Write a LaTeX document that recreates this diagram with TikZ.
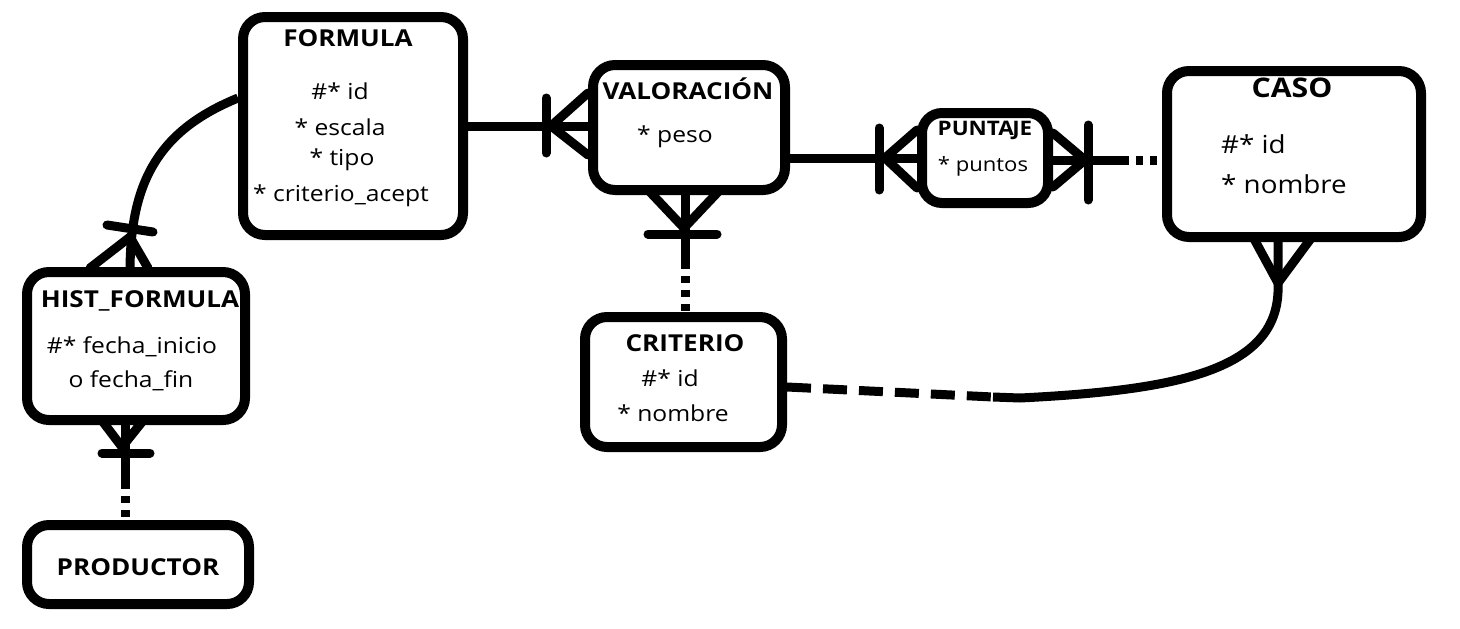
\documentclass[tikz,border=0pt]{standalone}
\usepackage{fontspec}
\setmainfont[FakeStretch=1.12]{Open Sans}
\usetikzlibrary{calc}
\begin{document}
\begin{tikzpicture}[x=1pt,y=-1pt,
  box/.style={draw, line width=10pt, rounded corners=22pt, inner sep=0pt},
  conn/.style={line width=9pt},
  crow/.style={line width=9pt, line cap=round},
  dotline/.style={line width=9pt, dash pattern=on 7pt off 7pt},
  longdash/.style={line width=9pt, dash pattern=on 24pt off 12pt},
  ttl/.style={font=\fontsize{23.3}{27}\selectfont\bfseries, inner sep=0pt},
  txt/.style={font=\fontsize{22}{26}\selectfont, inner sep=0pt}]
\useasboundingbox[fill=white] (0,0) rectangle (1460,629);

% boxes
\node[box, minimum width=220pt, minimum height=218pt] (formula) at (353,126) {};
\node[box, minimum width=192pt, minimum height=125pt] (val) at (689,127.5) {};
\node[box, minimum width=126pt, minimum height=90pt, rounded corners=20pt] (punt) at (985,158) {};
\node[box, minimum width=254pt, minimum height=166pt] (caso) at (1294,154) {};
\node[box, minimum width=218pt, minimum height=148pt] (hist) at (136,346) {};
\node[box, minimum width=197pt, minimum height=130pt] (crit) at (683.5,382) {};
\node[box, minimum width=222pt, minimum height=79pt] (prod) at (138,564.5) {};

% texts
\node[ttl] (tf) at (348,38) {FORMULA};
\node[txt] (f1) at (340,91) {\#* id};
\node[txt] (f2) at (340,127) {* escala};
\node[txt] (f3) at (342,160) {* tipo};
\node[txt] (f4) at (341,196) {* criterio\_acept};
\node[ttl] (tv) at (688,89) {VALORACIÓN};
\node[txt] (v1) at (675,137) {* peso};
\node[ttl, font=\fontsize{20}{24}\selectfont\bfseries] (tp) at (985,130) {PUNTA\kern-1.5pt JE};
\node[txt, font=\fontsize{19.7}{23}\selectfont] (p1) at (983,166) {* puntos};
\node[ttl, font=\fontsize{27}{31}\selectfont\bfseries] (tc) at (1292,88) {CASO};
\node[txt, font=\fontsize{24.8}{29}\selectfont, anchor=west] (c1) at (1221,144) {\#* id};
\node[txt, font=\fontsize{24.8}{29}\selectfont, anchor=west] (c2) at (1221,184) {* nombre};
\node[ttl] (th) at (140,301) {HIST\_FORMULA};
\node[txt] (h1) at (132,347) {\#* fecha\_inicio};
\node[txt] (h2) at (131,381) {o fecha\_fin};
\node[ttl] (tcr) at (685,343) {CRITERIO};
\node[txt] (cr1) at (670,378) {\#* id};
\node[txt] (cr2) at (673,413) {* nombre};
\node[ttl] (tpr) at (138,567) {PRODUCTOR};

% FORMULA -- VALORACION
\coordinate (vw) at (val.west |- 0,126);
\draw[conn] (formula.east |- vw) -- (vw);
\draw[crow] ($(vw)+(0,-33)$) -- ($(vw)+(-37,0)$) -- ($(vw)+(0,29)$);
\draw[crow] ($(vw)+(-42,-28)$) -- ($(vw)+(-42,27)$);

% VALORACION -- PUNTAJE
\coordinate (pw) at (punt.west |- 0,158);
\draw[conn] (val.east |- pw) -- (pw);
\draw[crow] ($(pw)+(0,-28)$) -- ($(pw)+(-32,0)$) -- ($(pw)+(0,30)$);
\draw[crow] ($(pw)+(-38,-30)$) -- ($(pw)+(-38,32)$);

% PUNTAJE -- CASO
\coordinate (pe) at (punt.east |- 0,160);
\coordinate (cw) at (caso.west |- pe);
\coordinate (pcm) at ($(pe)+(69,0)$);
\draw[conn] (pe) -- (pcm);
\draw[dotline] (pcm) -- (cw);
\draw[crow] ($(pe)+(0,-27)$) -- ($(pe)+(32,0)$) -- ($(pe)+(0,27)$);
\draw[crow] ($(pe)+(35,-35)$) -- ($(pe)+(35,40)$);

% VALORACION -- CRITERIO
\coordinate (vs) at (685,190);
\coordinate (crn) at (vs |- crit.north);
\coordinate (vcm) at (685,262);
\draw[conn] (vs) -- (vcm);
\draw[dotline] (vcm) -- (crn);
\draw[crow] ($(vs)+(-35,2)$) -- ($(vs)+(-1,38)$) -- ($(vs)+(33,2)$);
\draw[crow] ($(vs)+(-37,44)$) -- ($(vs)+(32,44)$);

% FORMULA -- HIST_FORMULA
\coordinate (fw) at ($(formula.west)+(0,-28)$);
\coordinate (hn) at (130,272);
\draw[conn] (fw) .. controls (160,130) and (130,180) .. (hn);
\draw[crow] ($(hn)+(-40,-4)$) -- ($(hn)+(0,-35)$) -- ($(hn)+(18,-4)$);
\draw[crow] ($(hn)+(-23,-47)$) -- ($(hn)+(23,-40)$);

% HIST_FORMULA -- PRODUCTOR
\coordinate (hs) at (125,420);
\coordinate (prn) at (hs |- prod.north);
\coordinate (hpm) at (125,482);
\draw[conn] (hs) -- (hpm);
\draw[dotline] (hpm) -- (prn);
\draw[crow] ($(hs)+(-22,2)$) -- ($(hs)+(-3,27)$) -- ($(hs)+(17,2)$);
\draw[crow] ($(hs)+(-23,33)$) -- ($(hs)+(25,33)$);

% CRITERIO -- CASO
\coordinate (ce) at ($(crit.east)+(0,5)$);
\coordinate (cs) at (1278,237);
\coordinate (ccf) at (1278,283);
\coordinate (ccm) at (993,397);
\draw[longdash] (ce) -- (ccm);
\draw[conn] (ccm) -- (1020,398) .. controls (1180,390) and (1282,370) .. (ccf) -- (cs);
\draw[crow] ($(cs)+(-25,0)$) -- (ccf) -- ($(cs)+(34,0)$);
\end{tikzpicture}
\end{document}
